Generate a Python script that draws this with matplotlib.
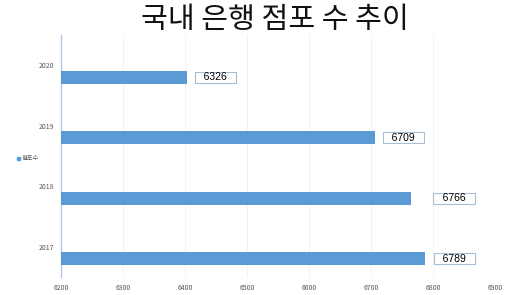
import matplotlib
matplotlib.use("Agg")
import matplotlib.pyplot as plt

plt.rcParams['font.family'] = ['Noto Sans CJK KR', 'DejaVu Sans']

years = ["2017", "2018", "2019", "2020"]
bar_values = [6787, 6765, 6706, 6403]
label_texts = ["6789", "6766", "6709", "6326"]
series_name = "점포수"
title = "국내 은행 점포 수 추이"
x_ticks = [6200, 6300, 6400, 6500, 6600, 6700, 6800, 6900]

bar_color = "#5B9BD5"
label_px_offsets = [8, 21, 7, 7]

fig = plt.figure(figsize=(5.12, 2.95), dpi=100)
ax = fig.add_axes([61/512, 1-277/295, (495-61)/512, (277-35)/295])

pos = list(range(len(years)))
ax.barh([p - 0.2 for p in pos], [v - x_ticks[0] for v in bar_values],
        left=x_ticks[0], height=0.21, color=bar_color, edgecolor="none", zorder=3)

ax.set_xlim(x_ticks[0], x_ticks[-1])
ax.set_ylim(-0.5, len(years) - 0.5)
ax.set_xticks(x_ticks)
ax.set_xticklabels([str(t) for t in x_ticks], fontsize=5, color="#595959")
ax.set_yticks(pos)
ax.set_yticklabels(years, fontsize=5, color="#595959")
ax.tick_params(length=0, pad=5)
ax.grid(axis="x", color="#f0f0f0", linewidth=0.6, zorder=0)
for s in ["top", "right", "bottom"]:
    ax.spines[s].set_visible(False)
ax.spines["left"].set_color("#b4c7e7")
ax.spines["left"].set_linewidth(1.0)

for p, v, t, off in zip(pos, bar_values, label_texts, label_px_offsets):
    ax.annotate("   " + t + "   ", xy=(v, p - 0.2), xytext=(off + 1.5, 0),
                textcoords="offset pixels", ha="left", va="center",
                fontsize=7.5, family="Liberation Sans", color="black",
                bbox=dict(boxstyle="square,pad=0.05", fc="white", ec="#a9bdd3", lw=0.8),
                zorder=4, annotation_clip=False)

fig.text(275/512, 1-20/295, title, ha="center", va="center", fontsize=21, color="#111111")

# legend
fig.patches.append(plt.Rectangle((17/512, 1-160/295), 3/512, 3/295,
                                 transform=fig.transFigure, color=bar_color))
fig.text(22/512, 1-158.5/295, series_name, ha="left", va="center", fontsize=4.5, color="#595959")

fig.savefig("out.png", dpi=100)
